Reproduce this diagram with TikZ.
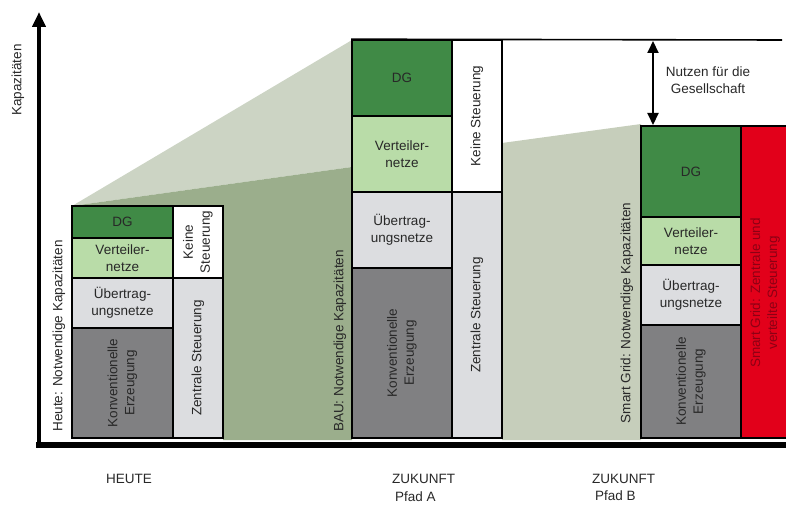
\documentclass[tikz,border=0pt]{standalone}
\usepackage{fontspec}
\setmainfont{Liberation Sans}
\usetikzlibrary{arrows.meta}

\definecolor{dgcol}{RGB}{64,138,70}
\definecolor{vnetz}{RGB}{185,220,168}
\definecolor{unetz}{RGB}{220,221,224}
\definecolor{konv}{RGB}{128,128,130}
\definecolor{sgred}{RGB}{226,0,26}
\definecolor{sgtext}{RGB}{140,0,20}
\definecolor{lightbg}{RGB}{204,212,196}
\definecolor{lightbgb}{RGB}{198,206,187}
\definecolor{darkbg}{RGB}{155,174,140}
\definecolor{txtcol}{RGB}{40,40,40}

\tikzset{
  blk/.style={draw=black, line width=1.6bp, inner sep=0pt, align=center,
    text=txtcol, font=\fontsize{13.5bp}{17bp}\selectfont},
  lbl/.style={inner sep=0pt, align=center, text=txtcol,
    font=\fontsize{13.5bp}{17bp}\selectfont},
}

\begin{document}
\begin{tikzpicture}[x=1bp, y=-1bp]
\useasboundingbox (0,0) rectangle (786,507);

%% background areas
\fill[lightbg] (72,206) -- (352,40) -- (352,167) -- cycle;
\fill[darkbg] (72,206) -- (352,167) -- (352,440) -- (223,440) -- (223,206) -- cycle;
\fill[lightbgb] (502,143) -- (641,124) -- (641,440) -- (502,440) -- cycle;

%% heute
\node[blk, fill=dgcol, minimum width=101bp, minimum height=32bp] (hDG) at (122.5,222) {DG};
\node[blk, fill=vnetz, minimum width=101bp, minimum height=40bp] (hVert) at (122.5,258) {Verteiler-\\netze};
\node[blk, fill=unetz, minimum width=101bp, minimum height=50bp] (hUeb) at (122.5,303) {Übertrag-\\ungsnetze};
\node[blk, fill=konv, rotate=90, minimum width=110bp, minimum height=101bp] (hKonv) at (122.5,383) {Konventionelle\\Erzeugung};
\node[blk, fill=white, rotate=90, minimum width=72bp, minimum height=50bp] (hKeine) at (198,242) {Keine\\Steuerung};
\node[blk, fill=unetz, rotate=90, minimum width=160bp, minimum height=50bp] (hZentr) at (198,358) {Zentrale Steuerung};

%% zukunft, pfad A
\node[blk, fill=dgcol, minimum width=100bp, minimum height=76bp] (aDG) at (402,78) {DG};
\node[blk, fill=vnetz, minimum width=100bp, minimum height=76bp] (aVert) at (402,154) {Verteiler-\\netze};
\node[blk, fill=unetz, minimum width=100bp, minimum height=76bp] (aUeb) at (402,230) {Übertrag-\\ungsnetze};
\node[blk, fill=konv, rotate=90, minimum width=170bp, minimum height=100bp] (aKonv) at (402,353) {Konventionelle\\Erzeugung};
\node[blk, fill=white, rotate=90, minimum width=152bp, minimum height=50bp] (aKeine) at (477,116) {Keine Steuerung};
\node[blk, fill=unetz, rotate=90, minimum width=246bp, minimum height=50bp] (aZentr) at (477,315) {Zentrale Steuerung};

%% zukunft, pfad B
\node[blk, fill=dgcol, minimum width=100bp, minimum height=91bp] (bDG) at (691,171.5) {DG};
\node[blk, fill=vnetz, minimum width=100bp, minimum height=48bp] (bVert) at (691,241) {Verteiler-\\netze};
\node[blk, fill=unetz, minimum width=100bp, minimum height=60bp] (bUeb) at (691,295) {Übertrag-\\ungsnetze};
\node[blk, fill=konv, rotate=90, minimum width=113bp, minimum height=100bp] (bKonv) at (691,381.5) {Konventionelle\\Erzeugung};
\node[blk, fill=sgred, minimum width=48bp, minimum height=312bp] (bSmart) at (765,282) {};
\node[lbl, text=sgtext, rotate=90] (bSmartT) at (765,293) {Smart Grid: Zentrale und\\verteilte Steuerung};

%% capacity labels
\node[lbl, rotate=90] (hCap) at (59,336) {Heute: Notwendige Kapazitäten};
\node[lbl, rotate=90] (aCap) at (340,341) {BAU: Notwendige Kapazitäten};
\node[lbl, rotate=90] (bCap) at (627,313) {Smart Grid: Notwendige Kapazitäten};

%% benefit
\coordinate (topEnd) at (782,40);
\coordinate (nTop) at (653,41);
\coordinate (nBot) at (653,125);
\draw[line width=1.6bp] (aDG.north west) -- (topEnd);
\draw[line width=2bp, {Triangle[width=11bp,length=12bp]}-{Triangle[width=11bp,length=12bp]}] (nTop) -- (nBot);
\node[lbl] (nutzen) at (708,80) {Nutzen für die\\Gesellschaft};

%% axes
\coordinate (yBase) at (39,448);
\coordinate (yTip) at (39,12);
\coordinate (xStart) at (36,445);
\coordinate (xEnd) at (786,445);
\draw[line width=4bp, -{Triangle[width=13bp,length=15bp]}] (yBase) -- (yTip);
\draw[line width=6bp] (xStart) -- (xEnd);
\node[lbl, rotate=90] (axCap) at (18,80) {Kapazitäten};

%% bottom labels
\node[lbl] (heute) at (129,479) {HEUTE};
\node[lbl, anchor=west] (zukA) at (392,479) {ZUKUNFT};
\node[lbl, anchor=west] (pfadA) at (395,497) {Pfad A};
\node[lbl, anchor=west] (zukB) at (592,479) {ZUKUNFT};
\node[lbl, anchor=west] (pfadB) at (595,496) {Pfad B};
\end{tikzpicture}
\end{document}
